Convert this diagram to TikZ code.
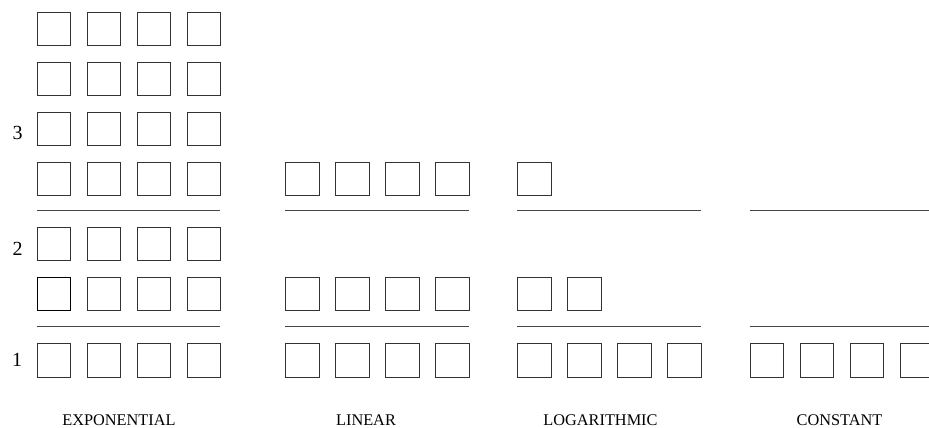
\documentclass[tikz,border=0pt]{standalone}
\usepackage{fontspec}
\setmainfont{Liberation Serif}
\begin{document}
\begin{tikzpicture}[x=1pt,y=-1pt,
  cell/.style={draw=black!80,line width=1pt,fill=white,minimum size=33.3pt,inner sep=0pt,anchor=north west},
  darkcell/.style={cell,draw=black,line width=1.2pt},
  divider/.style={draw=black!72,line width=1.3pt},
  levelnum/.style={font=\fontsize{20}{20}\selectfont,inner sep=0pt},
  caption/.style={font=\fontsize{16.3}{16.3}\selectfont,inner sep=0pt}]
\useasboundingbox (0,0) rectangle (929,428);
\clip (0,0) rectangle (929,428);
\fill[white] (0,0) rectangle (929,428);

% exponential: seven rows of four cells
\foreach \r/\top in {1/11.7,2/61.7,3/111.7,4/161.7,5/226.7,6/276.7,7/343.3}
  \foreach \c in {0,1,2,3}
    \node[cell] (e\r\c) at (36.7+50*\c,\top) {};
\node[darkcell] at (e60.north west) {};

% linear: three rows of four cells
\foreach \r/\top in {4/161.7,6/276.7,7/343.3}
  \foreach \c in {0,1,2,3}
    \node[cell] (l\r\c) at (285.3+50*\c,\top) {};

% logarithmic: one, two and four cells
\node[cell] (g40) at (517.3,161.7) {};
\foreach \c in {0,1}
  \node[cell] (g6\c) at (517.3+50*\c,276.7) {};
\foreach \c in {0,1,2,3}
  \node[cell] (g7\c) at (517.3+50*\c,343.3) {};

% constant: four cells on the bottom level only
\foreach \c in {0,1,2,3}
  \node[cell] (k7\c) at (750+50*\c,343.3) {};

% level dividers
\foreach \g/\x in {e/36.7,l/285.3,g/517.3,k/750}{
  \coordinate (\g a1) at (\x,210.7);
  \coordinate (\g b1) at (\x+183.3,210.7);
  \coordinate (\g a2) at (\x,326.7);
  \coordinate (\g b2) at (\x+183.3,326.7);
  \draw[divider] (\g a1) -- (\g b1);
  \draw[divider] (\g a2) -- (\g b2);
}

% level numbers
\node[levelnum] (n3) at (17.7,133) {3};
\node[levelnum] (n2) at (17.7,248.7) {2};
\node[levelnum] (n1) at (17.2,360) {1};

% captions
\node[caption] (t1) at (119,420.6) {EXPONENTIAL};
\node[caption] (t2) at (366,420.6) {LINEAR};
\node[caption] (t3) at (600.5,420.6) {LOGARITHMIC};
\node[caption] (t4) at (839.5,420.6) {CONSTANT};
\end{tikzpicture}
\end{document}
